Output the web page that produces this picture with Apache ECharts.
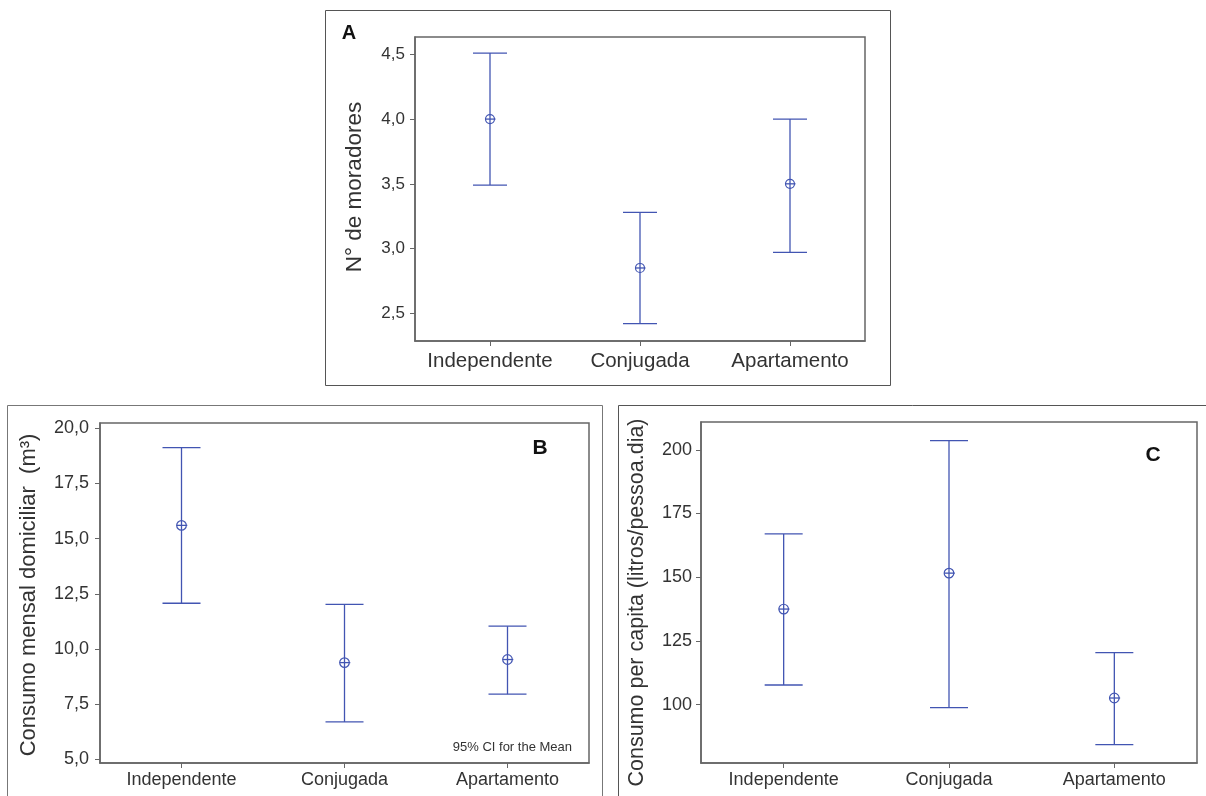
<!DOCTYPE html>
<html>
<head>
<meta charset="utf-8">
<script src="https://cdn.jsdelivr.net/npm/echarts@6/dist/echarts.min.js"></script>
<style>
html,body{margin:0;padding:0;background:#fff;}
#chart{width:1206px;height:796px;}
</style>
</head>
<body>
<div id="chart"></div>
<script>
// ---- data ----
const categories = ['Independente', 'Conjugada', 'Apartamento'];

const meanA = [4.00, 2.85, 3.50];
const lowA  = [3.49, 2.42, 2.97];
const highA = [4.51, 3.28, 4.00];

const meanB = [15.60, 9.38, 9.52];
const lowB  = [12.07, 6.69, 7.95];
const highB = [19.12, 12.02, 11.03];

const meanC = [137.5, 151.6, 102.6];
const lowC  = [107.7, 98.8, 84.3];
const highC = [167.0, 203.6, 120.4];

const ticksA = [2.5, 3.0, 3.5, 4.0, 4.5];
const ticksB = [5.0, 7.5, 10.0, 12.5, 15.0, 17.5, 20.0];
const ticksC = [100, 125, 150, 175, 200];

const rangeA = [2.286, 4.634];
const rangeB = [4.83, 20.24];
const rangeC = [77.1, 210.9];

const titleA = 'N° de moradores';
const titleB = 'Consumo mensal domiciliar  (m³)';
const titleC = 'Consumo per capita (litros/pessoa.dia)';
const noteB = '95% CI for the Mean';

// ---- styling ----
const FONT = '"Liberation Sans", Arial, sans-serif';
const BAR = '#4255b2';
const TXT = '#333';
const BOX = '#666';

function rows(low, high, mean) {
  return categories.map((c, i) => [i, low[i], high[i], mean[i]]);
}
function errRender(capHalf, r) {
  return function (params, api) {
    const x = api.value(0);
    const pl = api.coord([x, api.value(1)]);
    const ph = api.coord([x, api.value(2)]);
    const pm = api.coord([x, api.value(3)]);
    const st = { stroke: BAR, lineWidth: 1.3, fill: null };
    return {
      type: 'group',
      children: [
        { type: 'line', shape: { x1: pl[0], y1: pl[1], x2: ph[0], y2: ph[1] }, style: st },
        { type: 'line', shape: { x1: pl[0] - capHalf, y1: pl[1], x2: pl[0] + capHalf, y2: pl[1] }, style: st },
        { type: 'line', shape: { x1: ph[0] - capHalf, y1: ph[1], x2: ph[0] + capHalf, y2: ph[1] }, style: st },
        { type: 'circle', shape: { cx: pm[0], cy: pm[1], r: r }, style: { stroke: BAR, lineWidth: 1.2, fill: 'none' } },
        { type: 'line', shape: { x1: pm[0] - r, y1: pm[1], x2: pm[0] + r + 1, y2: pm[1] }, style: st }
      ]
    };
  };
}
function fmtComma(v) { return v.toFixed(1).replace('.', ','); }
function fmtInt(v) { return String(Math.round(v)); }

function yAxis(gi, range, ticks, fmt, title, size, margin, gap, titleSize, pad) {
  return {
    type: 'value', gridIndex: gi, min: range[0], max: range[1],
    splitLine: { show: false },
    axisLine: { show: true, lineStyle: { color: BOX, width: 1.5 } },
    axisTick: { show: true, length: 5, lineStyle: { color: BOX, width: 1 }, customValues: ticks },
    axisLabel: { customValues: ticks, formatter: fmt, color: TXT, fontSize: size, fontFamily: FONT, margin: margin },
    name: title, nameLocation: 'middle', nameGap: gap, nameMoveOverlap: false,
    nameTextStyle: { color: TXT, fontSize: titleSize, fontFamily: FONT, padding: pad || 0 }
  };
}
function xAxis(gi, size, margin) {
  return {
    type: 'category', gridIndex: gi, data: categories,
    axisLine: { show: true, lineStyle: { color: BOX, width: 1.5 } },
    axisTick: { show: true, alignWithLabel: true, length: 5, lineStyle: { color: BOX, width: 1 } },
    axisLabel: { color: TXT, fontSize: size, fontFamily: FONT, margin: margin, interval: 0 },
    splitLine: { show: false }
  };
}
const gridStyle = { show: true, borderColor: BOX, borderWidth: 1.5, backgroundColor: '#fff', containLabel: false, outerBoundsMode: 'none' };

const chart = echarts.init(document.getElementById('chart'), null, { renderer: 'canvas' });
chart.setOption({
  backgroundColor: '#fff',
  animation: false,
  grid: [
    Object.assign({ left: 415, top: 37, width: 450, height: 304 }, gridStyle),
    Object.assign({ left: 100, top: 423, width: 489, height: 340 }, gridStyle),
    Object.assign({ left: 701, top: 422, width: 496, height: 341 }, gridStyle)
  ],
  xAxis: [xAxis(0, 20.5, 10), xAxis(1, 18, 8), xAxis(2, 18, 8)],
  yAxis: [
    yAxis(0, rangeA, ticksA, fmtComma, titleA, 17, 10, 49, 22.5, [0, 0, 0, 4]),
    yAxis(1, rangeB, ticksB, fmtComma, titleB, 18, 11, 60, 22, [0, 4, 0, 0]),
    yAxis(2, rangeC, ticksC, fmtInt, titleC, 18, 9, 53, 21.5, [0, 20, 0, 0])
  ],
  series: [
    { type: 'custom', xAxisIndex: 0, yAxisIndex: 0, renderItem: errRender(17, 4.5), data: rows(lowA, highA, meanA), encode: { x: 0, y: [1, 2, 3] } },
    { type: 'custom', xAxisIndex: 1, yAxisIndex: 1, renderItem: errRender(19, 4.8), data: rows(lowB, highB, meanB), encode: { x: 0, y: [1, 2, 3] } },
    { type: 'custom', xAxisIndex: 2, yAxisIndex: 2, renderItem: errRender(19, 4.8), data: rows(lowC, highC, meanC), encode: { x: 0, y: [1, 2, 3] } }
  ],
  graphic: [
    { type: 'rect', shape: { x: 325.5, y: 10.5, width: 565, height: 375 }, style: { fill: 'none', stroke: '#555', lineWidth: 1 }, z: -1 },
    { type: 'rect', shape: { x: 7.5, y: 405.5, width: 595, height: 420 }, style: { fill: 'none', stroke: '#777', lineWidth: 1 }, z: -1 },
    { type: 'rect', shape: { x: 618.5, y: 405.5, width: 620, height: 420 }, style: { fill: 'none', stroke: '#555', lineWidth: 1 }, z: -1 },
    { type: 'text', x: 349, y: 33, style: { text: 'A', fill: '#111', font: 'bold 20px ' + FONT, textAlign: 'center', textVerticalAlign: 'middle' }, z: 10 },
    { type: 'text', x: 540, y: 448, style: { text: 'B', fill: '#111', font: 'bold 21px ' + FONT, textAlign: 'center', textVerticalAlign: 'middle' }, z: 10 },
    { type: 'text', x: 1153, y: 455, style: { text: 'C', fill: '#111', font: 'bold 21px ' + FONT, textAlign: 'center', textVerticalAlign: 'middle' }, z: 10 },
    { type: 'text', x: 572, y: 747, style: { text: noteB, fill: TXT, font: '13px ' + FONT, textAlign: 'right', textVerticalAlign: 'middle' }, z: 10 }
  ]
});
</script>
</body>
</html>
